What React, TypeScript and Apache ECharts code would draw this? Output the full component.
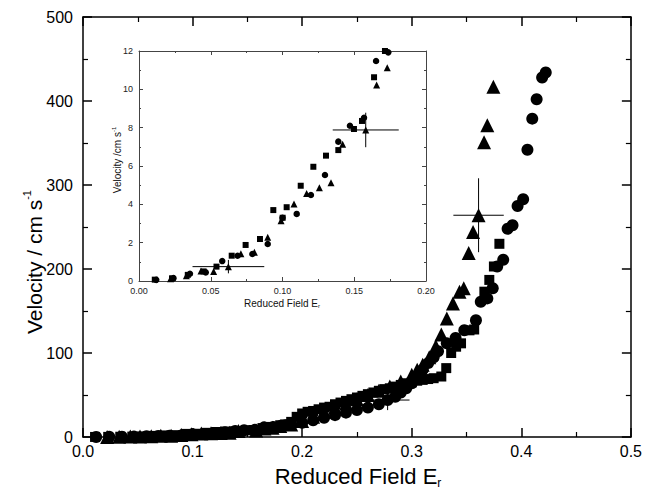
import React, { useEffect, useRef } from "react";
import * as echarts from "echarts";

// ---- data: Reduced field E_r vs velocity (cm s^-1) ----
const squareE = [0.011, 0.023, 0.034, 0.045, 0.054, 0.0646, 0.0743, 0.0843, 0.0936, 0.1001, 0.1029, 0.1127, 0.1215, 0.1303, 0.1389, 0.1498, 0.1554, 0.1638, 0.1714,
  0.18, 0.185, 0.19, 0.195, 0.2, 0.205, 0.21, 0.215, 0.22, 0.225, 0.23, 0.235, 0.24, 0.245, 0.25, 0.255, 0.26, 0.265, 0.27, 0.275, 0.28, 0.285, 0.29, 0.295, 0.3, 0.305, 0.31, 0.315, 0.32, 0.327, 0.3315, 0.336, 0.3405, 0.345, 0.3527, 0.357, 0.3663, 0.3708, 0.375, 0.38];
const squareV = [0.07, 0.14, 0.32, 0.5, 0.75, 1.32, 1.88, 2.19, 3.7, 3.3, 3.85, 4.97, 5.96, 6.54, 6.83, 7.93, 8.35, 10.63, 12.0,
  14, 15, 18, 24, 28, 30, 31, 33, 35, 36, 39, 41, 43, 45, 47, 49, 51, 53, 55, 57, 58, 60, 62, 64, 65, 67, 68, 69, 70, 72, 82, 100, 107.5, 111.5, 127, 128, 173, 187, 203, 230];

const circleE = [0.012, 0.024, 0.0355, 0.0465, 0.058, 0.0687, 0.079, 0.0897, 0.1, 0.1099, 0.1198, 0.1296, 0.1389, 0.147, 0.1568, 0.1652, 0.1737,
  0.18, 0.185, 0.19, 0.2, 0.21, 0.22, 0.23, 0.24, 0.25, 0.26, 0.27, 0.278, 0.285, 0.29, 0.295, 0.3, 0.305, 0.31, 0.315, 0.32, 0.324, 0.332, 0.34, 0.348, 0.3586, 0.363, 0.369, 0.3739, 0.378, 0.3835, 0.3875, 0.392, 0.3966, 0.4017, 0.4056, 0.41, 0.414, 0.419, 0.4223];
const circleV = [0.06, 0.15, 0.38, 0.45, 1.04, 1.32, 1.41, 1.93, 3.3, 3.5, 4.49, 5.53, 7.27, 8.1, 8.52, 11.48, 11.93,
  13, 14, 15, 17, 20, 23, 26, 29, 32, 35, 39, 44, 48, 53, 58, 64, 72, 80, 88, 95, 102, 111.5, 118, 127, 139, 161, 165, 177, 203, 211, 248, 252, 275, 283, 342, 379, 402, 428, 434];

const triangleE = [0.022, 0.033, 0.0432, 0.052, 0.0623, 0.071, 0.0804, 0.0897, 0.099, 0.108, 0.1168, 0.1257, 0.1338, 0.1419, 0.158, 0.1656, 0.173,
  0.18, 0.19, 0.2, 0.21, 0.22, 0.23, 0.24, 0.25, 0.26, 0.27, 0.28, 0.29, 0.3, 0.305, 0.31, 0.316, 0.322, 0.327, 0.332, 0.3376, 0.3436, 0.3475, 0.352, 0.356, 0.361, 0.366, 0.369, 0.3745];
const triangleV = [0.12, 0.28, 0.52, 0.49, 0.75, 1.42, 1.5, 2.28, 3.15, 4.02, 4.57, 4.87, 5.13, 7.13, 7.88, 10.22, 11.13,
  13, 15, 19, 24, 30, 35, 40, 45, 50, 55, 60, 66, 74, 80, 86, 95, 108, 122, 141, 159, 173, 177, 219, 244, 264, 351, 371, 417];

// error bars: [E, V, dE, dV]
const mainErrors = [[0.278, 44, 0.02, 12], [0.361, 264, 0.023, 44]];
const insetErrors = [[0.0623, 0.75, 0.025, 0.35], [0.158, 7.88, 0.023, 0.9]];

const FONT = "'Liberation Sans', Arial, sans-serif";

const pairs = (xs: number[], ys: number[]) => xs.map((x, i) => [x, ys[i]]);

function errRender(params: any, api: any) {
  const x = api.value(0), y = api.value(1), dx = api.value(2), dy = api.value(3);
  const a = api.coord([x - dx, y]), b = api.coord([x + dx, y]);
  const c = api.coord([x, y - dy]), d = api.coord([x, y + dy]);
  const st = { stroke: "#000", lineWidth: 1 };
  return {
    type: "group",
    children: [
      { type: "line", shape: { x1: a[0], y1: a[1], x2: b[0], y2: b[1] }, style: st },
      { type: "line", shape: { x1: c[0], y1: c[1], x2: d[0], y2: d[1] }, style: st },
    ],
  };
}

export default function App() {
  const ref = useRef<HTMLDivElement>(null);
  useEffect(() => {
    document.body.style.margin = "0";
    const chart = echarts.init(ref.current!, null, { renderer: "svg" });

    const mainLine = { show: true, onZero: false, lineStyle: { color: "#000", width: 1.5 } };
    const mainTick = { show: true, inside: true, length: 9, lineStyle: { color: "#000", width: 1.5 } };
    const mainMinor = { show: true, splitNumber: 2, length: 5, lineStyle: { color: "#000", width: 1.2 } };
    const inLine = { show: true, onZero: false, lineStyle: { color: "#444", width: 1 } };
    const inTick = { show: true, inside: true, length: 4, lineStyle: { color: "#444", width: 1 } };
    const inMinor = { show: true, splitNumber: 2, length: 2, lineStyle: { color: "#444", width: 1 } };

    const mainXBase = { type: "value", gridIndex: 0, min: 0, max: 0.5, interval: 0.1, axisLine: mainLine, axisTick: mainTick, minorTick: mainMinor, splitLine: { show: false } };
    const mainYBase = { type: "value", gridIndex: 0, min: 0, max: 500, interval: 100, axisLine: mainLine, axisTick: mainTick, minorTick: mainMinor, splitLine: { show: false } };
    const inXBase = { type: "value", gridIndex: 1, min: 0, max: 0.2, interval: 0.05, axisLine: inLine, axisTick: inTick, minorTick: inMinor, splitLine: { show: false } };
    const inYBase = { type: "value", gridIndex: 1, min: 0, max: 12, interval: 2, axisLine: inLine, axisTick: inTick, minorTick: inMinor, splitLine: { show: false } };

    const mk = { color: "#000", opacity: 1 };

    const option: any = {
      animation: false,
      backgroundColor: "#fff",
      grid: [
        { left: 83, top: 17, right: 11, bottom: 61 },
        { left: 139, top: 51, width: 287, height: 230, backgroundColor: "#fff", show: true, borderWidth: 0 },
      ],
      xAxis: [
        { ...mainXBase, position: "bottom", axisLabel: { formatter: (v: number) => v.toFixed(1), fontSize: 16, color: "#000", fontFamily: FONT, margin: 6 } },
        { ...mainXBase, position: "top", axisLabel: { show: false } },
        { ...inXBase, position: "bottom", axisLabel: { formatter: (v: number) => v.toFixed(2), fontSize: 9, color: "#222", fontFamily: FONT, margin: 5 } },
        { ...inXBase, position: "top", axisLabel: { show: false } },
      ],
      yAxis: [
        { ...mainYBase, position: "left", axisLabel: { fontSize: 16, color: "#000", fontFamily: FONT, margin: 10 } },
        { ...mainYBase, position: "right", axisLabel: { show: false } },
        { ...inYBase, position: "left", axisLabel: { fontSize: 9, color: "#222", fontFamily: FONT, margin: 6 } },
        { ...inYBase, position: "right", axisLabel: { show: false } },
      ],
      graphic: [
        {
          type: "text", x: 358, y: 476, z: 100,
          style: {
            text: "{a|Reduced Field E}{s|r}", textAlign: "center", textVerticalAlign: "middle", fill: "#000",
            rich: { a: { fontSize: 22, fontFamily: FONT, fill: "#000", lineHeight: 26 }, s: { fontSize: 12, fontFamily: FONT, fill: "#000", lineHeight: 26, verticalAlign: "bottom" } },
          },
        },
        {
          type: "text", x: 34, y: 262, rotation: Math.PI / 2, z: 100,
          style: {
            text: "{a|Velocity / cm s}{s|-1}", textAlign: "center", textVerticalAlign: "middle", fill: "#000",
            rich: { a: { fontSize: 21, fontFamily: FONT, fill: "#000", lineHeight: 26 }, s: { fontSize: 11, fontFamily: FONT, fill: "#000", lineHeight: 26, verticalAlign: "top" } },
          },
        },
        {
          type: "text", x: 282, y: 303, z: 100,
          style: {
            text: "{a|Reduced Field E}{s|r}", textAlign: "center", textVerticalAlign: "middle", fill: "#111",
            rich: { a: { fontSize: 10, fontFamily: FONT, fill: "#111", lineHeight: 12 }, s: { fontSize: 6, fontFamily: FONT, fill: "#111", lineHeight: 12, verticalAlign: "bottom" } },
          },
        },
        {
          type: "text", x: 117, y: 160, rotation: Math.PI / 2, z: 100,
          style: {
            text: "{a|Velocity /cm s}{s|-1}", textAlign: "center", textVerticalAlign: "middle", fill: "#111",
            rich: { a: { fontSize: 10, fontFamily: FONT, fill: "#111", lineHeight: 12 }, s: { fontSize: 6, fontFamily: FONT, fill: "#111", lineHeight: 12, verticalAlign: "top" } },
          },
        },
      ],
      series: [
        { type: "custom", xAxisIndex: 0, yAxisIndex: 0, renderItem: errRender, data: mainErrors, z: 1 },
        { type: "scatter", xAxisIndex: 0, yAxisIndex: 0, symbol: "rect", symbolSize: 10, itemStyle: mk, data: pairs(squareE, squareV), z: 2 },
        { type: "scatter", xAxisIndex: 0, yAxisIndex: 0, symbol: "circle", symbolSize: 12, itemStyle: mk, data: pairs(circleE, circleV), z: 2 },
        { type: "scatter", xAxisIndex: 0, yAxisIndex: 0, symbol: "triangle", symbolSize: 14, itemStyle: mk, data: pairs(triangleE, triangleV), z: 2 },
        { type: "custom", xAxisIndex: 2, yAxisIndex: 2, renderItem: errRender, data: insetErrors, z: 3 },
        { type: "scatter", xAxisIndex: 2, yAxisIndex: 2, symbol: "rect", symbolSize: 6, itemStyle: mk, data: pairs(squareE, squareV), clip: true, z: 4 },
        { type: "scatter", xAxisIndex: 2, yAxisIndex: 2, symbol: "circle", symbolSize: 6.5, itemStyle: mk, data: pairs(circleE, circleV), clip: true, z: 4 },
        { type: "scatter", xAxisIndex: 2, yAxisIndex: 2, symbol: "triangle", symbolSize: 7, itemStyle: mk, data: pairs(triangleE, triangleV), clip: true, z: 4 },
      ],
    };
    chart.setOption(option);
    return () => chart.dispose();
  }, []);
  return <div ref={ref} style={{ width: 645, height: 498 }} />;
}
